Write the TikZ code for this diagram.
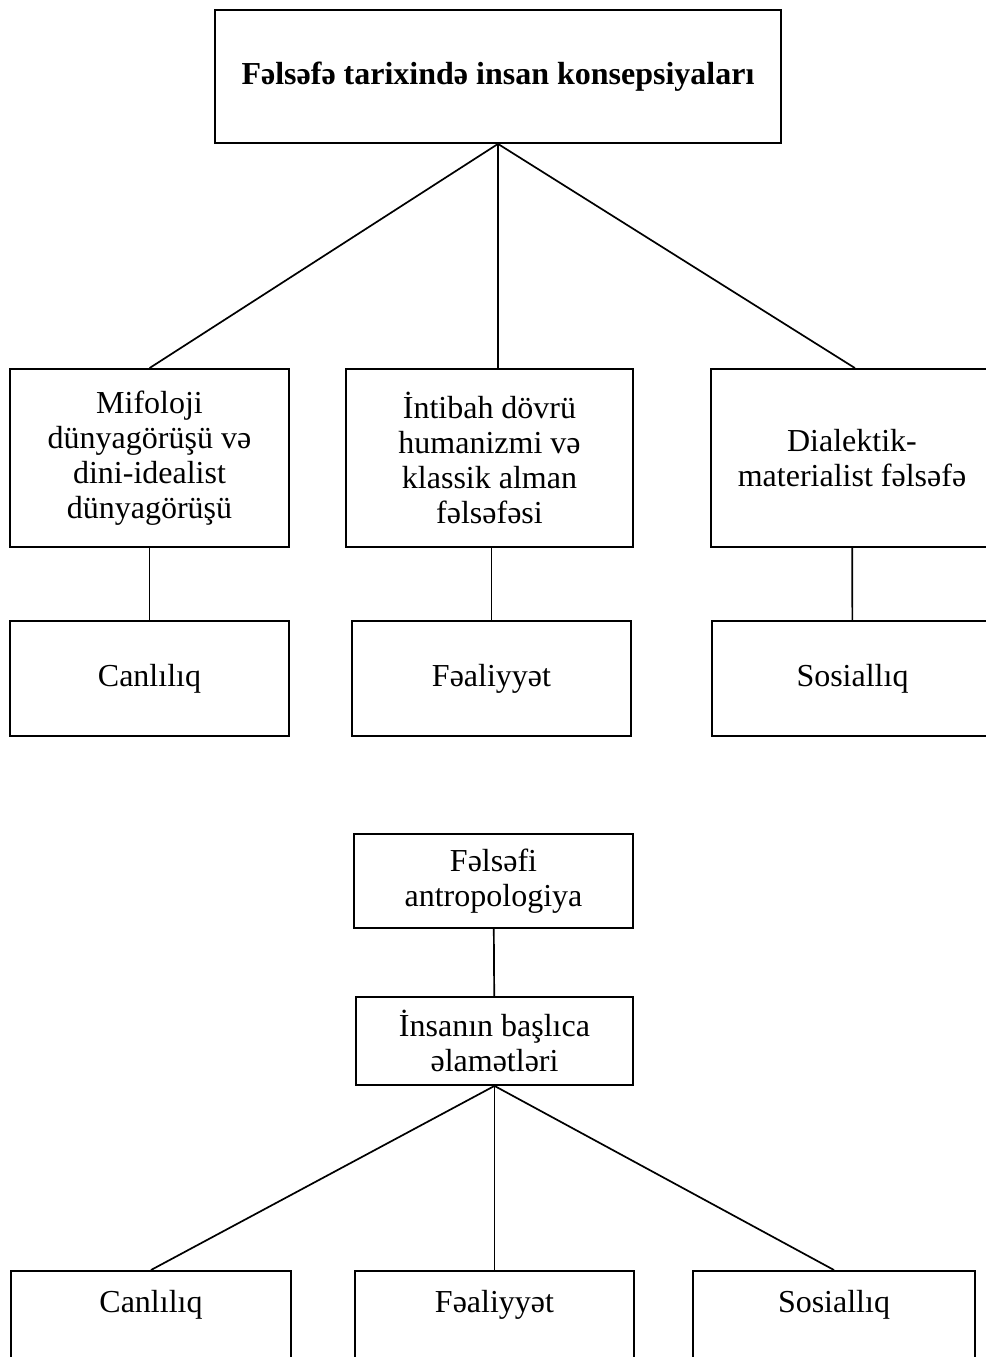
\documentclass[tikz,border=0pt]{standalone}
\usepackage{fontspec}
\setmainfont{Liberation Serif}
\usetikzlibrary{positioning}

\begin{document}
\begin{tikzpicture}[x=1pt,y=-1pt,
		box/.style={draw, line width=1.8pt, align=center, inner sep=0pt,
			font=\fontsize{32}{35}\selectfont},
		link/.style={line width=1.7pt}]
	\useasboundingbox (0,0) rectangle (985,1357);
	% tarix sxemi
	\node[box, minimum width=566, minimum height=133, font=\fontsize{32}{35}\selectfont\bfseries] (tarix) at (498,76.5) {Fəlsəfə tarixində insan konsepsiyaları};
	\node[box, minimum width=279, minimum height=178] (mif) at (149.5,458) {Mifoloji\\dünyagörüşü və\\dini-idealist\\dünyagörüşü};
	\node[box, minimum width=287, minimum height=178] (intibah) at (489.5,458) {İntibah dövrü\\humanizmi və\\klassik alman\\fəlsəfəsi};
	\node[box, minimum width=282, minimum height=178] (dialektik) at (852,458) {Dialektik-\\materialist fəlsəfə};
	\node[box, minimum width=279, minimum height=115] (can1) at (149.5,678.5) {Canlılıq};
	\node[box, minimum width=279, minimum height=115] (fea1) at (491.5,678.5) {Fəaliyyət};
	\node[box, minimum width=281, minimum height=115] (sos1) at (852.5,678.5) {Sosiallıq};
	\draw[link] (tarix.south) -- (mif.north);
	\draw[link] (tarix.south) -- (tarix.south |- intibah.north);
	\draw[link] (tarix.south) -- ([xshift=3]dialektik.north);
	\draw[link] (mif) -- (can1);
	\draw[link] (fea1.north |- intibah.south) -- (fea1);
	\draw[link] (dialektik) -- (sos1);
	% antropologiya sxemi
	\node[box, minimum width=279, minimum height=94] (antrop) at (493.5,881) {Fəlsəfi\\antropologiya};
	\node[box, minimum width=277, minimum height=88] (elamet) at (494.5,1041) {İnsanın başlıca\\əlamətləri};
	\draw[link] (antrop) -- (elamet);
	\foreach \nm/\xc/\w/\txt in {can2/151/280/Canlılıq, fea2/494.5/279/Fəaliyyət, sos2/834/282/Sosiallıq}
	{
		\node[box, minimum width=\w, text height=42, text depth=90, anchor=north] (\nm) at (\xc,1270) {\txt};
		\draw[link] (elamet.south) -- (\nm.north);
	}
\end{tikzpicture}
\end{document}
